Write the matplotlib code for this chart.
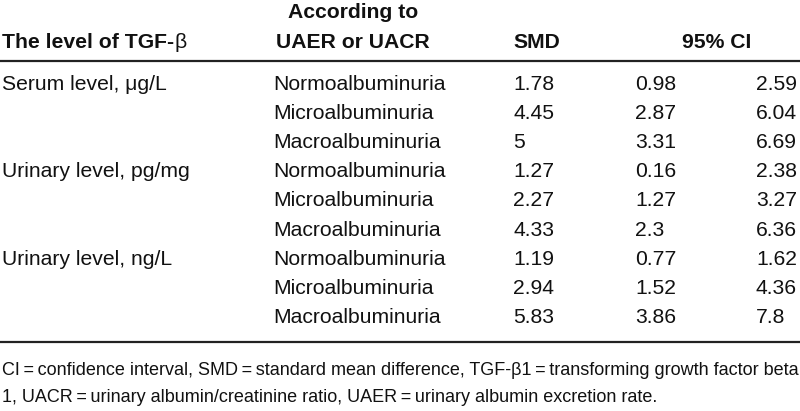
import matplotlib
matplotlib.use("Agg")
import matplotlib.pyplot as plt

# table content
levels = ["Serum level, \u03bcg/L", "Urinary level, pg/mg", "Urinary level, ng/L"]
groups = ["Normoalbuminuria", "Microalbuminuria", "Macroalbuminuria"]
smd = ["1.78", "4.45", "5", "1.27", "2.27", "4.33", "1.19", "2.94", "5.83"]
ci_low = ["0.98", "2.87", "3.31", "0.16", "1.27", "2.3", "0.77", "1.52", "3.86"]
ci_high = ["2.59", "6.04", "6.69", "2.38", "3.27", "6.36", "1.62", "4.36", "7.8"]
eq = "\u2009=\u2009"
footnote = [
    f"CI{eq}confidence interval, SMD{eq}standard mean difference, TGF-\u03b21{eq}transforming growth factor beta",
    f"1, UACR{eq}urinary albumin/creatinine ratio, UAER{eq}urinary albumin excretion rate.",
]

plt.rcParams["font.family"] = ["Liberation Sans", "DejaVu Sans"]
FS = 15.2

fig = plt.figure(figsize=(8, 4.11), dpi=100)
ax = fig.add_axes([0, 0, 1, 1])
ax.set_xlim(0, 800)
ax.set_ylim(411, 0)
ax.axis("off")

col_level, col_group, col_smd, col_lo, col_hi = 2, 273, 513, 635, 756
row0, row_h = 84, 29.2
txt_color = "#111111"

# header
hdr = ax.text(col_level, 42, "The level of TGF-", fontsize=FS, fontweight="bold",
              va="center", color=txt_color)
ax.annotate("\u03b2", xy=(1, 0.5), xycoords=hdr, va="center", fontsize=FS, color=txt_color)
ax.text(353, 13, "According to", fontsize=FS, fontweight="bold", va="center", ha="center", color=txt_color)
ax.text(353, 42, "UAER or UACR", fontsize=FS, fontweight="bold", va="center", ha="center", color=txt_color)
ax.text(col_smd, 42, "SMD", fontsize=FS, fontweight="bold", va="center", color=txt_color)
ax.text(717, 42, "95% CI", fontsize=FS, fontweight="bold", va="center", ha="center", color=txt_color)

ax.plot([0, 800], [61, 61], color="#222222", lw=1.6)
ax.plot([0, 800], [342, 342], color="#222222", lw=1.6)

# body
for i in range(len(smd)):
    y = row0 + i * row_h
    if i % 3 == 0:
        ax.text(col_level, y, levels[i // 3], fontsize=FS, va="center", color=txt_color)
    ax.text(col_group, y, groups[i % 3], fontsize=FS, va="center", color=txt_color)
    ax.text(col_smd, y, smd[i], fontsize=FS, va="center", color=txt_color)
    ax.text(col_lo, y, ci_low[i], fontsize=FS, va="center", color=txt_color)
    ax.text(col_hi, y, ci_high[i], fontsize=FS, va="center", color=txt_color)

# footnote, first line sized to span the full width
fn1 = ax.text(col_level, 370, footnote[0], fontsize=13, va="center", color=txt_color)
fn2 = ax.text(col_level, 397, footnote[1], fontsize=13, va="center", color=txt_color)
renderer = fig.canvas.get_renderer()
w = fn1.get_window_extent(renderer).width
fs_fn = 13 * 795 / w
fn1.set_fontsize(fs_fn)
fn2.set_fontsize(fs_fn)

fig.savefig("out.png", dpi=100)
